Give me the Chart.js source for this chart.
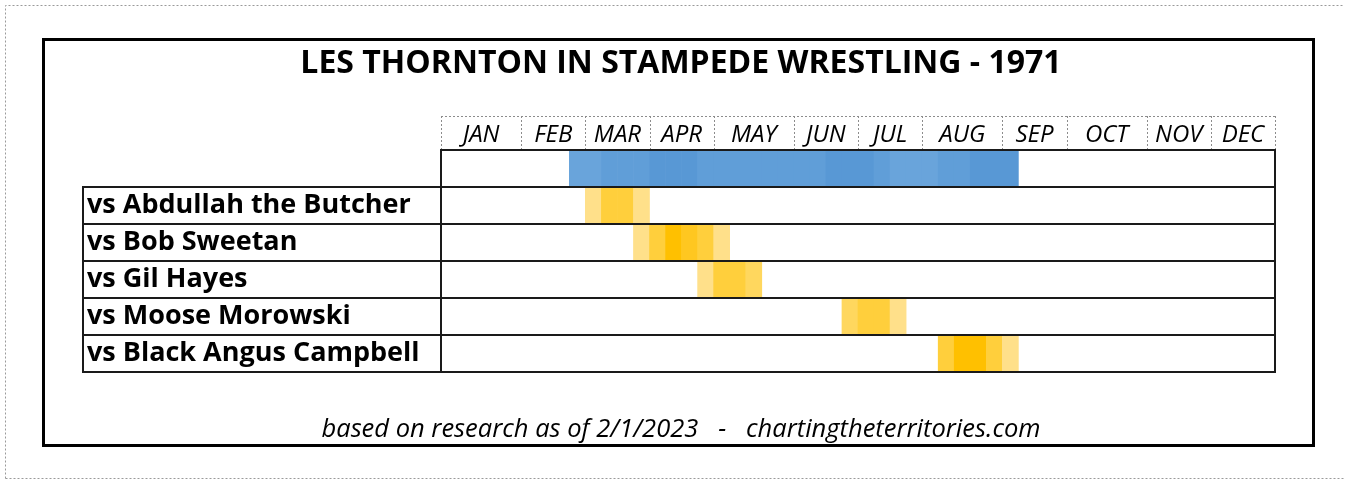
<!DOCTYPE html>
<html>
<head>
<meta charset="utf-8">
<script src="https://cdn.jsdelivr.net/npm/chart.js@4.4.0/dist/chart.umd.min.js"></script>
<style>
  html, body { margin: 0; padding: 0; background: #fff; }
  #wrap { width: 1348px; height: 481px; }
</style>
</head>
<body>
<div id="wrap"><canvas id="chart" width="1348" height="481"></canvas></div>
<script>
// months and how many weekly columns each one gets
const months = ['JAN', 'FEB', 'MAR', 'APR', 'MAY', 'JUN', 'JUL', 'AUG', 'SEP', 'OCT', 'NOV', 'DEC'];
const monthWeeks = [5, 4, 4, 4, 5, 4, 4, 5, 4, 5, 4, 4];

// first row is the overall run (no label), then one row per opponent
const rowLabels = ['Stampede', 'vs Abdullah the Butcher', 'vs Bob Sweetan', 'vs Gil Hayes', 'vs Moose Morowski', 'vs Black Angus Campbell'];
const rowStart = [8, 9, 12, 16, 25, 31];   // first week (0-based)

// weekly shade levels, starting at rowStart
const stampedeLevels = [1, 1, 2, 2, 2, 3, 3, 3, 2, 2, 2, 2, 2, 2, 2, 2, 3, 3, 3, 2, 1, 1, 1, 2, 2, 3, 3, 3];
const abdullahLevels = [1, 3, 3, 1];
const sweetanLevels = [1, 3, 5, 4, 3, 1];
const hayesLevels = [1, 3, 3, 2];
const morowskiLevels = [2, 3, 3, 1];
const campbellLevels = [3, 5, 5, 3, 1];

const blueShades = ['#69a4db', '#609ed8', '#5898d5'];
const goldShades = ['#ffe08a', '#ffd75e', '#ffcf3c', '#ffc720', '#ffc000'];

const rowLevels = [stampedeLevels, abdullahLevels, sweetanLevels, hayesLevels, morowskiLevels, campbellLevels];

const datasets = rowLevels.map((levels, r) => ({
  label: rowLabels[r],
  data: levels.map((lv, i) => ({ x: [rowStart[r] + i, rowStart[r] + i + 1], y: rowLabels[r] })),
  backgroundColor: levels.map(lv => (r === 0 ? blueShades : goldShades)[lv - 1]),
  borderWidth: 0,
  barPercentage: 1,
  categoryPercentage: 1,
  grouped: false
}));

// month centres and boundaries in week units
const monthEdges = [0];
monthWeeks.forEach(w => monthEdges.push(monthEdges[monthEdges.length - 1] + w));
const monthMids = months.map((m, i) => (monthEdges[i] + monthEdges[i + 1]) / 2);

const FONT = '"Open Sans"';

const tablePlugin = {
  id: 'tableLines',
  beforeDraw(chart) {
    const ctx = chart.ctx;
    ctx.save();
    // page border, dotted
    ctx.strokeStyle = '#9a9a9a';
    ctx.lineWidth = 1;
    ctx.setLineDash([2, 2]);
    ctx.beginPath();
    ctx.moveTo(5.5, 478.5); ctx.lineTo(5.5, 5.5); ctx.lineTo(1343.5, 5.5);
    ctx.moveTo(5.5, 478.5); ctx.lineTo(1343.5, 478.5);
    ctx.stroke();
    ctx.setLineDash([]);
    // outer frame
    ctx.strokeStyle = '#000';
    ctx.lineWidth = 3;
    ctx.strokeRect(43.5, 39.5, 1270, 406);
    ctx.restore();
  },
  afterDatasetsDraw(chart) {
    const ctx = chart.ctx;
    const area = chart.chartArea;
    const xs = chart.scales.x;
    const ys = chart.scales.y;
    const labelLeft = 83;
    const rowH = (area.bottom - area.top) / rowLabels.length;
    ctx.save();

    // header cells: dotted month borders
    const headTop = xs.top;
    ctx.strokeStyle = '#8c8c8c';
    ctx.lineWidth = 1;
    ctx.setLineDash([2, 2]);
    ctx.beginPath();
    ctx.moveTo(area.left, headTop + 0.5);
    ctx.lineTo(area.right, headTop + 0.5);
    monthEdges.forEach(w => {
      const px = Math.round(xs.getPixelForValue(w)) + 0.5;
      ctx.moveTo(px, headTop);
      ctx.lineTo(px, area.top);
    });
    ctx.stroke();
    ctx.setLineDash([]);

    // solid row lines
    ctx.strokeStyle = '#1a1a1a';
    ctx.lineWidth = 2;
    ctx.beginPath();
    for (let r = 0; r <= rowLabels.length; r++) {
      const py = Math.round(ys.getPixelForValue(r) - rowH / 2);
      ctx.moveTo(r === 0 ? area.left : labelLeft, py);
      ctx.lineTo(area.right + 1, py);
    }
    ctx.moveTo(labelLeft, Math.round(area.top + rowH) - 1);
    ctx.lineTo(labelLeft, area.bottom + 1);
    ctx.moveTo(area.left, area.top - 1);
    ctx.lineTo(area.left, area.bottom + 1);
    ctx.moveTo(area.right, area.top - 1);
    ctx.lineTo(area.right, area.bottom + 1);
    ctx.stroke();
    ctx.restore();
  }
};

new Chart(document.getElementById('chart'), {
  type: 'bar',
  data: { labels: rowLabels, datasets: datasets },
  options: {
    indexAxis: 'y',
    responsive: false,
    animation: false,
    layout: { padding: { left: 87, right: 73, top: 0, bottom: 0 } },
    scales: {
      x: {
        type: 'linear',
        position: 'top',
        min: 0,
        max: 52,
        grid: { display: false, drawTicks: false },
        border: { display: false },
        afterBuildTicks: scale => { scale.ticks = monthMids.map(v => ({ value: v })); },
        afterFit: scale => { scale.height = 34; },
        ticks: {
          autoSkip: false,
          maxRotation: 0,
          padding: 0.5,
          color: '#000',
          font: { family: FONT, size: 24, style: 'italic' },
          callback: (v, i) => months[i]
        }
      },
      y: {
        type: 'category',
        grid: { display: false, drawTicks: false },
        border: { display: false },
        afterFit: scale => { scale.width = 354; },
        ticks: {
          crossAlign: 'far',
          color: '#000',
          font: { family: FONT, size: 27, weight: 'bold' },
          callback: (v, i) => (i === 0 ? '' : rowLabels[i])
        }
      }
    },
    plugins: {
      legend: { display: false },
      tooltip: { enabled: false },
      title: {
        display: true,
        text: 'LES THORNTON IN STAMPEDE WRESTLING - 1971',
        color: '#000',
        font: { family: FONT, size: 32, weight: 'bold' },
        padding: { top: 45, bottom: 32.6 }
      },
      subtitle: {
        display: true,
        position: 'bottom',
        text: 'based on research as of 2/1/2023   -   chartingtheterritories.com',
        color: '#000',
        font: { family: FONT, size: 25.5, style: 'italic' },
        padding: { top: 42, bottom: 36.4 }
      }
    }
  },
  plugins: [tablePlugin]
});
</script>
</body>
</html>
